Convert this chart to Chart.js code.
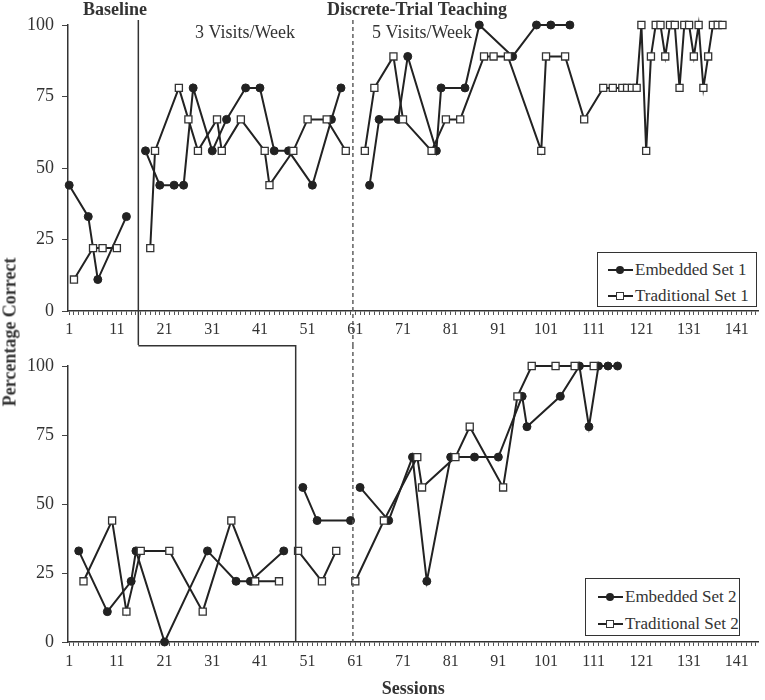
<!DOCTYPE html>
<html lang="en">
<head>
    <meta charset="UTF-8">
    <title>Percentage Correct by Session</title>
    <script src="https://cdn.jsdelivr.net/npm/chart.js"></script>
    <style>
        body {
            margin: 0;
            background: #fff;
            font-family: 'Liberation Serif', 'Times New Roman', serif;
            color: #333;
        }

        #figure {
            position: relative;
            width: 765px;
            height: 700px;
        }

        #topChart, #bottomChart {
            position: absolute;
            left: 0;
        }

        #topChart { top: 0; }
        #bottomChart { top: 345px; }

        .y-title {
            position: absolute;
            left: 10px;
            top: 332px;
            transform: translate(-50%, -50%) rotate(-90deg);
            white-space: nowrap;
            font-weight: bold;
            font-size: 18px;
        }

        .legend-box {
            position: absolute;
            background: #fff;
            border: 1.5px solid #333;
            box-sizing: border-box;
        }

        .legend-row {
            position: absolute;
            left: 0;
            height: 20px;
            font-size: 17px;
            line-height: 20px;
            white-space: nowrap;
        }

        .legend-line {
            position: absolute;
            top: 9px;
            width: 25px;
            height: 2px;
            background: #222;
        }

        .legend-pt {
            position: absolute;
            box-sizing: border-box;
        }
    </style>
</head>
<body>
    <div id="figure">
        <canvas id="topChart" width="765" height="345"></canvas>
        <canvas id="bottomChart" width="765" height="355"></canvas>
        <div class="y-title">Percentage Correct</div>
        <div id="legendTop" class="legend-box" style="left:597px; top:252px; width:160px; height:55px;"></div>
        <div id="legendBottom" class="legend-box" style="left:585px; top:578px; width:155px; height:58px;"></div>
    </div>

    <script>
        // Set 1 (top panel)
        const emb1Sessions = [1, 5, 7, 13, 17, 20, 23, 25, 27, 31, 34, 38, 41, 44, 47, 52, 56, 58,
            64, 66, 70, 72, 78, 79, 84, 87, 94, 99, 102, 106];
        const emb1Values = [44, 33, 11, 33, 56, 44, 44, 44, 78, 56, 67, 78, 78, 56, 56, 44, 67, 78,
            44, 67, 67, 89, 56, 78, 78, 100, 89, 100, 100, 100];

        const trad1Sessions = [2, 6, 8, 11, 18, 19, 24, 26, 28, 32, 33, 37, 42, 43, 48, 51, 55, 59,
            63, 65, 69, 71, 77, 80, 83, 88, 90, 93, 100, 101, 105, 109, 113, 115, 117, 118, 119, 120,
            121, 122, 123, 124, 125, 126, 127, 128, 129, 130, 131, 132, 133, 134, 135, 136, 137, 138];
        const trad1Values = [11, 22, 22, 22, 22, 56, 78, 67, 56, 67, 56, 67, 56, 44, 56, 67, 67, 56,
            56, 78, 89, 67, 56, 67, 67, 89, 89, 89, 56, 89, 89, 67, 78, 78, 78, 78, 78, 78,
            100, 56, 89, 100, 100, 89, 100, 100, 78, 100, 100, 89, 100, 78, 89, 100, 100, 100];

        // Set 2 (bottom panel)
        const emb2Sessions = [3, 9, 14, 15, 21, 30, 36, 39, 46, 50, 53, 60,
            62, 68, 73, 76, 81, 86, 91, 96, 97, 104, 108, 110, 112, 114, 116];
        const emb2Values = [33, 11, 22, 33, 0, 33, 22, 22, 33, 56, 44, 44,
            56, 44, 67, 22, 67, 67, 67, 89, 78, 89, 100, 78, 100, 100, 100];

        const trad2Sessions = [4, 10, 13, 16, 22, 29, 35, 40, 45, 49, 54, 57,
            61, 67, 74, 75, 82, 85, 92, 95, 98, 103, 107, 111];
        const trad2Values = [22, 44, 11, 33, 33, 11, 44, 22, 22, 33, 22, 33,
            22, 44, 67, 56, 67, 78, 56, 89, 100, 100, 100, 100];

        // phase change lines (between sessions)
        const set1Phases = [15.5, 60.5];
        const set2Phases = [48.5, 60.5];

        const yTicks = [0, 25, 50, 75, 100];
        const tickSessions = Array.from({ length: 145 }, (_, i) => i + 1);

        const FONT = "'Liberation Serif', 'Times New Roman', serif";
        Chart.defaults.font.family = FONT;
        Chart.defaults.color = '#333';

        // turn sessions/values into points, breaking the line at each phase change
        function toPoints(sessions, values, breaks) {
            const pts = [];
            sessions.forEach((s, i) => {
                if (i > 0) {
                    breaks.forEach(b => {
                        if (sessions[i - 1] < b && s > b) pts.push({ x: b, y: null });
                    });
                }
                pts.push({ x: s, y: values[i] });
            });
            return pts;
        }

        function embeddedSet(label, pts) {
            return {
                label: label, data: pts, order: 1, clip: false, spanGaps: false,
                borderColor: '#222', borderWidth: 2, tension: 0,
                pointStyle: 'circle', pointRadius: 4,
                pointBackgroundColor: '#222', pointBorderColor: '#222', pointBorderWidth: 1
            };
        }

        function traditionalSet(label, pts) {
            return {
                label: label, data: pts, order: 0, clip: false, spanGaps: false,
                borderColor: '#222', borderWidth: 2, tension: 0,
                pointStyle: 'rect', pointRadius: 5,
                pointBackgroundColor: '#fff', pointBorderColor: '#333', pointBorderWidth: 1.3
            };
        }

        function scalesFor(xHeight, withTitle, labelPad) {
            return {
                x: {
                    type: 'linear', min: 0.75, max: 145.6,
                    afterBuildTicks: s => { s.ticks = tickSessions.map(v => ({ value: v })); },
                    afterFit: s => { s.height = xHeight; },
                    ticks: {
                        autoSkip: false, maxRotation: 0, padding: labelPad,
                        font: { size: 16 }, color: '#333',
                        callback: v => ((v - 1) % 10 === 0 ? String(v) : '')
                    },
                    grid: { drawOnChartArea: false, tickLength: 4, color: '#555', lineWidth: 1 },
                    border: { color: '#333', width: 1.5 },
                    title: {
                        display: withTitle, text: 'Sessions', color: '#333',
                        font: { size: 18, weight: 'bold' }, padding: { top: 0, bottom: 0 }
                    }
                },
                y: {
                    min: 0, max: 100,
                    afterBuildTicks: s => { s.ticks = yTicks.map(v => ({ value: v })); },
                    afterFit: s => { s.width = 68; },
                    ticks: { padding: 8, font: { size: 18 }, color: '#333' },
                    grid: { drawOnChartArea: false, tickLength: 6, color: '#444', lineWidth: 1 },
                    border: { color: '#333', width: 1.5 }
                }
            };
        }

        function vline(ctx, x, y1, y2, dashed) {
            ctx.save();
            ctx.strokeStyle = dashed ? '#555' : '#333';
            ctx.lineWidth = dashed ? 1.4 : 1.5;
            if (dashed) ctx.setLineDash([4, 3]);
            ctx.beginPath();
            ctx.moveTo(x, y1);
            ctx.lineTo(x, y2);
            ctx.stroke();
            ctx.restore();
        }

        const topDecor = {
            id: 'topDecor',
            afterDraw(chart) {
                const { ctx, chartArea } = chart;
                const xs = chart.scales.x;
                vline(ctx, xs.getPixelForValue(set1Phases[0]), chartArea.top - 5, chart.height, false);
                vline(ctx, xs.getPixelForValue(set1Phases[1]), chartArea.top - 5, chart.height, true);

                ctx.save();
                ctx.fillStyle = '#333';
                ctx.textAlign = 'center';
                ctx.textBaseline = 'alphabetic';
                ctx.font = 'bold 18px ' + FONT;
                ctx.fillText('Baseline', 115, 15);
                ctx.fillText('Discrete-Trial Teaching', 417, 15);
                ctx.font = '18px ' + FONT;
                ctx.fillText('3 Visits/Week', 245, 38);
                ctx.fillText('5 Visits/Week', 422, 38);
                ctx.restore();
            }
        };

        const bottomDecor = {
            id: 'bottomDecor',
            afterDraw(chart) {
                const { ctx, chartArea } = chart;
                const xs = chart.scales.x;
                const xa = xs.getPixelForValue(set1Phases[0]);
                const xb = xs.getPixelForValue(set2Phases[0]);
                ctx.save();
                ctx.strokeStyle = '#333';
                ctx.lineWidth = 1.5;
                ctx.beginPath();
                ctx.moveTo(xa, 0.75);
                ctx.lineTo(xb, 0.75);
                ctx.stroke();
                ctx.restore();
                vline(ctx, xb, 0, chartArea.bottom, false);
                vline(ctx, xs.getPixelForValue(set2Phases[1]), 0, chartArea.bottom, true);
            }
        };

        const topChart = new Chart(document.getElementById('topChart'), {
            type: 'line',
            data: {
                datasets: [
                    embeddedSet('Embedded Set 1', toPoints(emb1Sessions, emb1Values, set1Phases)),
                    traditionalSet('Traditional Set 1', toPoints(trad1Sessions, trad1Values, set1Phases))
                ]
            },
            options: {
                responsive: false, animation: false,
                layout: { padding: { top: 25, right: 3, left: 0, bottom: 0 } },
                plugins: { legend: { display: false }, tooltip: { enabled: false } },
                scales: scalesFor(34, false, 5)
            },
            plugins: [topDecor]
        });

        const bottomChart = new Chart(document.getElementById('bottomChart'), {
            type: 'line',
            data: {
                datasets: [
                    embeddedSet('Embedded Set 2', toPoints(emb2Sessions, emb2Values, set2Phases)),
                    traditionalSet('Traditional Set 2', toPoints(trad2Sessions, trad2Values, set2Phases))
                ]
            },
            options: {
                responsive: false, animation: false,
                layout: { padding: { top: 21, right: 3, left: 0, bottom: 0 } },
                plugins: { legend: { display: false }, tooltip: { enabled: false } },
                scales: scalesFor(58, true, 6)
            },
            plugins: [bottomDecor]
        });

        // boxed legends built from the chart datasets
        function buildLegend(chart, boxId, rowTops, lineLeft) {
            const box = document.getElementById(boxId);
            chart.data.datasets.forEach((ds, i) => {
                const row = document.createElement('div');
                row.className = 'legend-row';
                row.style.top = (rowTops[i] - 10) + 'px';

                const line = document.createElement('span');
                line.className = 'legend-line';
                line.style.left = lineLeft + 'px';
                row.appendChild(line);

                const pt = document.createElement('span');
                pt.className = 'legend-pt';
                if (ds.pointStyle === 'circle') {
                    pt.style.width = '8px'; pt.style.height = '8px';
                    pt.style.borderRadius = '50%';
                    pt.style.background = ds.pointBackgroundColor;
                    pt.style.left = (lineLeft + 8) + 'px'; pt.style.top = '6px';
                } else {
                    pt.style.width = '8px'; pt.style.height = '8px';
                    pt.style.background = ds.pointBackgroundColor;
                    pt.style.border = '1.3px solid ' + ds.pointBorderColor;
                    pt.style.left = (lineLeft + 8) + 'px'; pt.style.top = '6px';
                }
                row.appendChild(pt);

                const txt = document.createElement('span');
                txt.textContent = ds.label;
                txt.style.position = 'absolute';
                txt.style.left = (lineLeft + 27) + 'px';
                row.appendChild(txt);

                box.appendChild(row);
            });
        }

        buildLegend(topChart, 'legendTop', [17, 43], 10);
        buildLegend(bottomChart, 'legendBottom', [18, 45], 12);
    </script>
</body>
</html>
